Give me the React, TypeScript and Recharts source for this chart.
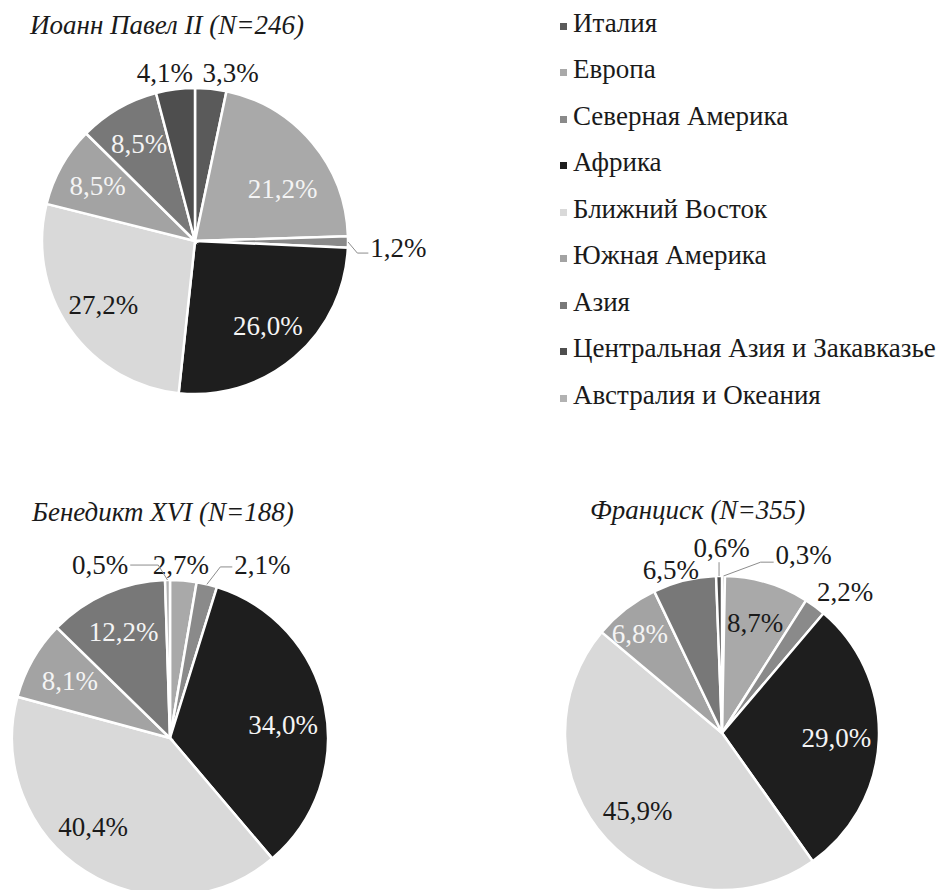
import React from 'react';
import { PieChart, Pie, Cell, Legend } from 'recharts';

const categories = [
  'Италия',
  'Европа',
  'Северная Америка',
  'Африка',
  'Ближний Восток',
  'Южная Америка',
  'Азия',
  'Центральная Азия и Закавказье',
  'Австралия и Океания',
];
const colors = ['#5a5a5a', '#a9a9a9', '#8a8a8a', '#1e1e1e', '#d9d9d9', '#a3a3a3', '#787878', '#4e4e4e', '#b2b2b2'];

const johnPaulII = [3.3, 21.2, 1.2, 26.0, 27.2, 8.5, 8.5, 4.1, 0];
const benedictXVI = [0, 2.7, 2.1, 34.0, 40.4, 8.1, 12.2, 0, 0.5];
const francis = [0.3, 8.7, 2.2, 29.0, 45.9, 6.8, 6.5, 0.6, 0];

const titles = ['Иоанн Павел II (N=246)', 'Бенедикт XVI (N=188)', 'Франциск (N=355)'];

const FONT =
  "'Liberation Serif', 'LiberationSerif', Tinos, 'Times New Roman', Times, 'Nimbus Roman', 'Nimbus Roman No9 L', FreeSerif, 'Noto Serif', 'DejaVu Serif', serif";
const RAD = Math.PI / 180;

const build = (vals: number[]) =>
  categories
    .map((name, i) => ({ name, value: vals[i], color: colors[i] }))
    .filter((d) => d.value > 0);

const fmt = (v: number) => v.toFixed(1).replace('.', ',') + '%';

type LabelCfg = {
  nudge: Record<string, [number, number]>;
  dark: string[];
  outside: string[];
  leader: Record<string, { end: [number, number]; elbow?: [number, number]; vertical?: boolean }>;
};

const makeLabel = (cfg: LabelCfg) => (props: any) => {
  const { cx, cy, midAngle, outerRadius, value, name } = props;
  const c = Math.cos(-midAngle * RAD);
  const s = Math.sin(-midAngle * RAD);
  const outside = value < 5 || cfg.outside.includes(name);
  const r = outside ? outerRadius * 1.12 : outerRadius * 0.73;
  const n = cfg.nudge[name] || [0, 0];
  const x = cx + r * c + n[0];
  const y = cy + r * s + n[1];
  const fill = outside || cfg.dark.includes(name) ? '#1a1a1a' : '#f4f4f4';
  const ld = cfg.leader[name];
  let line = null;
  if (ld) {
    const ex = cx + outerRadius * c;
    const ey = cy + outerRadius * s;
    let pts: number[][];
    if (ld.vertical) {
      pts = [
        [ex, ey],
        [ex, y + ld.end[1]],
      ];
    } else {
      pts = [[ex, ey]];
      if (ld.elbow) pts.push([x + ld.elbow[0], y + ld.elbow[1]]);
      pts.push([x + ld.end[0], y + ld.end[1]]);
    }
    line = (
      <polyline
        points={pts.map((p) => p.join(',')).join(' ')}
        fill="none"
        stroke="#8c8c8c"
        strokeWidth={1}
      />
    );
  }
  return (
    <g key={`lbl-${name}`}>
      {line}
      <text
        x={x}
        y={y}
        textAnchor="middle"
        dominantBaseline="central"
        fill={fill}
        style={{ fontFamily: FONT }}
        fontSize={27}
      >
        {fmt(value)}
      </text>
    </g>
  );
};

const cfg1: LabelCfg = {
  nudge: {
    'Италия': [18, 2],
    'Центральная Азия и Закавказье': [-8, 2],
    'Северная Америка': [32, 6],
    'Европа': [2, 20],
  },
  dark: ['Ближний Восток'],
  outside: [],
  leader: {
    'Северная Америка': { elbow: [-41, 5], end: [-30, 5] },
  },
};
const cfg2: LabelCfg = {
  nudge: {
    'Европа': [-4, 3],
    'Северная Америка': [51, -1],
    'Австралия и Океания': [-67, 4],
    'Африка': [0, 10],
    'Ближний Восток': [-15, -8],
  },
  dark: ['Ближний Восток'],
  outside: [],
  leader: {
    'Северная Америка': { elbow: [-42, 2], end: [-30, 2] },
    'Австралия и Океания': { elbow: [58, 0], end: [30, 0] },
  },
};
const cfg3: LabelCfg = {
  nudge: {
    'Италия': [80, -2],
    'Северная Америка': [19, 1],
    'Азия': [-9, 8],
    'Центральная Азия и Закавказье': [3, -9],
    'Южная Америка': [-12, -8],
  },
  dark: ['Ближний Восток', 'Европа'],
  outside: ['Азия'],
  leader: {
    'Италия': { elbow: [-43, 7], end: [-30, 7] },
    'Центральная Азия и Закавказье': { vertical: true, end: [0, 14] },
  },
};

const renderLegend = () => (
  <div style={{ fontFamily: FONT, fontSize: 27, color: '#1a1a1a' }}>
    {categories.map((name, i) => (
      <div
        key={name}
        style={{ display: 'flex', alignItems: 'center', height: 46.5, whiteSpace: 'nowrap' }}
      >
        <span
          style={{
            display: 'inline-block',
            width: 7,
            height: 7,
            background: colors[i],
            marginRight: 6,
            marginTop: 6,
          }}
        />
        <span>{name}</span>
      </div>
    ))}
  </div>
);

const titleStyle: React.CSSProperties = {
  position: 'absolute',
  fontFamily: FONT,
  fontStyle: 'italic',
  fontSize: 27,
  color: '#1a1a1a',
  whiteSpace: 'nowrap',
  lineHeight: '30px',
};

export default function App() {
  const d1 = build(johnPaulII);
  const d2 = build(benedictXVI);
  const d3 = build(francis);
  return (
    <div style={{ position: 'absolute', left: 0, top: 0, width: 944, height: 890, background: '#fff', overflow: 'hidden' }}>
      <PieChart width={944} height={890} margin={{ top: 0, right: 0, bottom: 0, left: 0 }}>
        <Pie
          data={d1}
          dataKey="value"
          nameKey="name"
          cx={195}
          cy={241}
          outerRadius={153}
          startAngle={90}
          endAngle={-270}
          stroke="#fff"
          strokeWidth={2.5}
          label={makeLabel(cfg1)}
          labelLine={false}
          isAnimationActive={false}
        >
          {d1.map((d) => (
            <Cell key={d.name} fill={d.color} />
          ))}
        </Pie>
        <Pie
          data={d2}
          dataKey="value"
          nameKey="name"
          cx={170}
          cy={738}
          outerRadius={158}
          startAngle={90}
          endAngle={-270}
          stroke="#fff"
          strokeWidth={2.5}
          label={makeLabel(cfg2)}
          labelLine={false}
          isAnimationActive={false}
        >
          {d2.map((d) => (
            <Cell key={d.name} fill={d.color} />
          ))}
        </Pie>
        <Pie
          data={d3}
          dataKey="value"
          nameKey="name"
          cx={722}
          cy={733}
          outerRadius={157}
          startAngle={90}
          endAngle={-270}
          stroke="#fff"
          strokeWidth={2.5}
          label={makeLabel(cfg3)}
          labelLine={false}
          isAnimationActive={false}
        >
          {d3.map((d) => (
            <Cell key={d.name} fill={d.color} />
          ))}
        </Pie>
        <Legend
          layout="vertical"
          align="right"
          verticalAlign="top"
          content={renderLegend}
          wrapperStyle={{ position: 'absolute', left: 560, top: 0, width: 384 }}
        />
      </PieChart>
      <div style={{ ...titleStyle, left: 30, top: 10 }}>{titles[0]}</div>
      <div style={{ ...titleStyle, left: 32, top: 497 }}>{titles[1]}</div>
      <div style={{ ...titleStyle, left: 590, top: 495 }}>{titles[2]}</div>
    </div>
  );
}
